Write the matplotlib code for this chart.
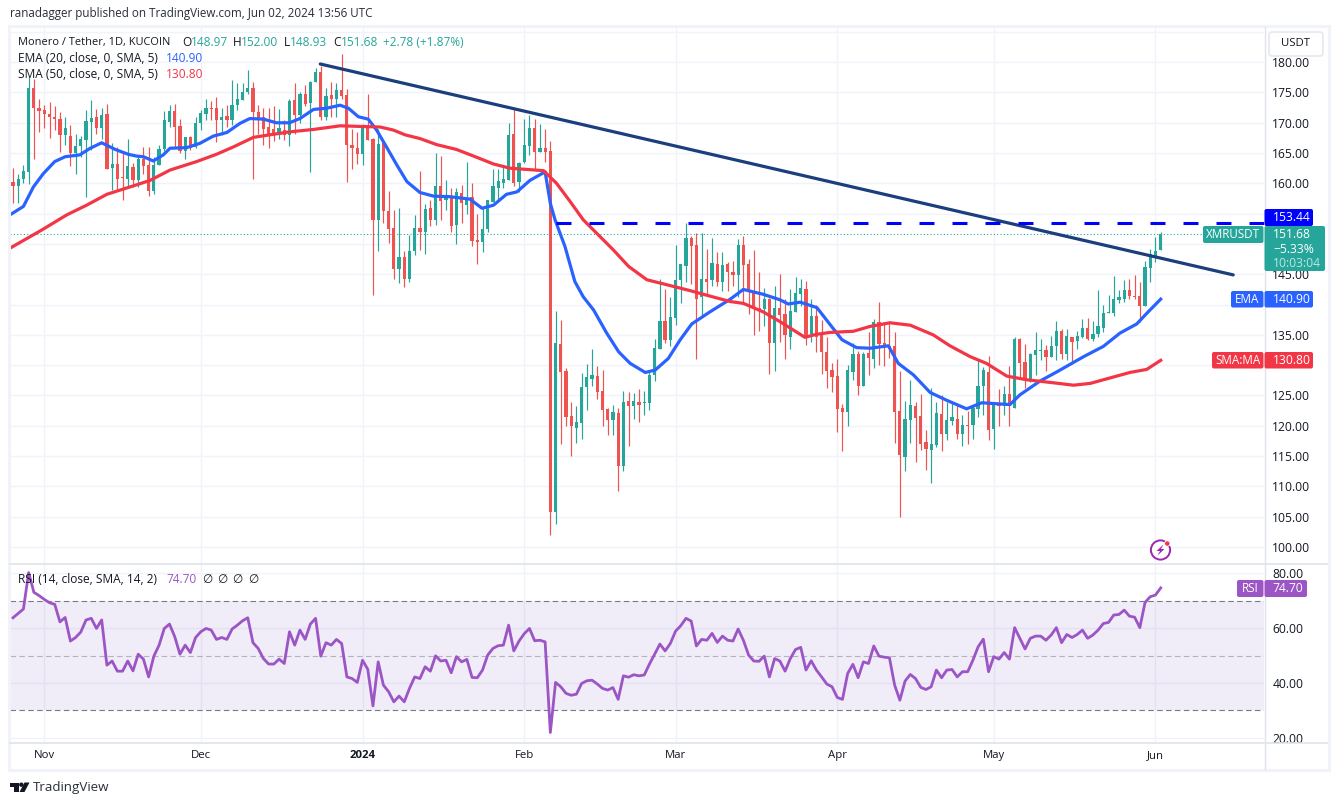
import matplotlib
matplotlib.use("Agg")
import numpy as np
import matplotlib.pyplot as plt
from matplotlib.patches import Circle, FancyBboxPatch, Polygon, Rectangle

plt.rcParams['font.family'] = ['Open Sans', 'DejaVu Sans']

W, H = 1338, 805

# daily candles, first one is 2023-10-26, last one 2024-06-02
opens = [160.2,159.6,160.8,161.8,175.7,172.5,172.1,171.5,170.9,170.7,168,167.9,165,166.1,167.1,170.2,170.9,169.1,171.4,162.6,
         163.2,161,160.7,162.7,160.5,164.1,163,158.7,163,165.6,170.1,171.9,169.5,165.4,167.7,166,169.9,171.4,172.5,172.5,
         170.5,171.1,170.5,172.9,173.7,175,175.8,171.8,170.9,169.3,169,168,168.8,168,173.8,171.3,174.7,173.3,176.8,178.3,
         170.9,174.6,173.9,175.4,174.6,166.3,165.9,164.9,169.6,167.3,154,166.6,155.5,152.6,145.9,147.8,144.3,148.9,152.6,151.9,
         155.9,154,159.6,157.3,157.7,153.1,158.4,156.4,157.7,150.7,150.4,152.4,157,159.2,160,160.6,168.1,160.3,163.6,166.2,
         169.2,165.2,165.9,165.3,105.7,133.5,129,121.6,119.6,120.5,126.4,127.8,128.2,125.7,122.7,121,122.1,113.3,124.1,123.2,
         123.9,123.7,123.8,128.3,132.7,137.3,134.2,137.8,144,146.4,151,149.8,141.3,144.2,144,146.7,143.8,146.7,145.4,144.9,
         149.8,146.7,142.1,139.4,139.3,141,133.7,139.5,138.5,134.7,138.8,141.7,142.5,135.1,138.1,134.9,132.1,129.2,128.2,122.9,
         122.2,128.8,131.8,126.6,132,131,137.1,133.6,133.2,133.1,122.4,114.9,121,123.3,121.6,117.3,116,116.8,122,118.6,
         120.8,121.2,118.7,120.1,120.1,122.8,126.5,128.9,119.5,123.7,123.2,125.2,123,134.3,130.5,127.7,131.7,132.4,132.5,131.4,
         133.1,135.6,131.8,134.7,134,134.6,136.2,134.3,135.1,136.2,138.6,138.6,140.8,141,142.4,141.4,141.4,139.8,146.1,147.7,148.97]
highs = [162.5,161.6,163,177.6,177.3,173.9,172.9,173.5,172.8,171.8,170.9,169.6,168.2,167.8,172.1,173.7,172.2,172.4,173.1,166.6,
         166,165,167.4,163.3,164.4,166,166,164.4,166.3,172,172.9,173.1,170.6,167.7,167.8,171,172.1,173.9,173.6,174.3,
         172.5,173,177,176.5,176.5,178.7,176.8,172.9,172.4,172.4,172.7,172.2,170.5,173.9,176.6,175.1,176.2,176.9,179,179.3,
         175.7,176.8,176.5,181.3,175.5,169,168.4,169.8,174.7,167.5,169,166.6,158.8,155.6,155.9,148.9,151.5,154.8,162,156.6,
         157.3,165,164.5,160.5,159.2,159.2,159.7,163.5,160.1,155,155.9,157.3,162.3,162.3,162.8,169.9,172.4,163.6,170.7,171.3,
         170.7,169.8,169,167,139,137.5,129.5,124,123.3,128.7,130.2,132.6,129.9,129.2,122.9,123.4,122.9,125.7,125.6,125.4,
         126,125.7,128.8,134.4,144.3,142.6,141.2,149.8,146.7,153.4,151.3,151.8,151.8,149.1,151,148.7,148.7,147.1,147.2,150.8,
         151.3,147.5,149,145.4,142.7,141.1,143.1,145.1,140.9,142.5,144.5,144.2,143.9,141,140,137.5,134.6,130.3,131,123.6,
         130,133.6,132.4,132.2,135.5,137.6,140.4,137.2,137.2,135.5,129,124.1,127.6,123.9,125.2,119.3,126.2,124,125.1,124,
         124,123.8,121.8,122.4,123.2,131,129.7,131.5,124,126.1,126.6,129.8,134.7,134.5,133.5,132,135.4,134.3,133.3,134.8,
         137.3,135.9,135.9,134.7,135.6,137.7,137.8,137.3,142.4,140,141.6,144.7,142.4,144.1,144.3,144.9,143.7,147.2,149.1,151.1,152]
lows = [156.7,156.8,160,159.9,164.1,168.4,169.2,167.5,168.8,165.2,166.3,162.9,161.6,164.4,157.8,165.5,168.1,167.4,162.3,158.9,
        159,157.2,159.2,159.4,159.4,161.6,158,158.3,163,165.4,169.3,165.8,165,164.1,165.5,165.9,168.8,170.5,170.5,166.9,
        168,169.3,169.6,172.1,173.7,174.8,160.8,168.2,166.3,165.8,167,167.4,167.2,166.2,168.2,169.9,172.7,161.9,176.8,170.5,
        170.4,171,171,174,160.3,162.3,163.2,163,167.1,141.6,148.9,153.4,150.1,144.3,143.5,142.9,143.8,148.2,149,148.3,
        153,153.1,154,155.6,151.9,150,153.4,155,149.6,146.7,148.7,152,157,157.5,159.2,160.5,159.6,158.5,163.4,164.7,
        162.2,165.1,163.6,102,103.8,117,119.9,115,117.2,117.9,122.6,126.5,124.5,120,118.4,118.5,109.3,112.5,116.6,121.1,
        120.7,121.8,122.6,127.4,132.7,133.7,133.2,136.6,140.2,143.8,143.4,131.1,138.3,141.4,143,143,142.3,142.3,143,141.2,
        140.5,138.5,135,135.7,136.5,128.5,129.1,133.9,131,132.7,138.8,139.7,133.3,133.9,132.2,128.5,126.3,125.6,118.9,115.9,
        120,127.5,125.1,126.6,128.3,129.5,130,129.8,131.2,117.2,105,112.6,117.2,114.1,116,112.7,110.6,116.5,115.9,117.7,
        120.1,117.9,116.7,117,117.8,121.5,121.8,117.7,116.2,120,121.8,119.9,123,128.1,126.3,127.2,128.4,130.9,129.1,131.4,
        130.9,131.1,130.9,130.3,132.7,134.5,134.2,134,134.7,135.4,138.6,138.1,140.2,140.5,141,141,137.2,139.8,143.8,147,148.93]
closes = [159.6,160.8,162,175.7,172.5,171.9,171.4,171,170.7,168,169.2,165,166.2,167.3,170.3,170.8,169.1,171.3,162.4,163.2,
          160.8,160.9,162.9,160.5,164.1,162.9,158.7,163,165.7,170.4,172,169.3,165.4,167.7,165.8,170,171.6,172.5,172.3,170.5,
          171,170.5,172.9,173.9,175,175.7,171.8,170.7,169,168,168.3,169.1,168,173.6,171.3,174.8,173.1,176.8,178.3,170.9,
          174.4,173.9,175.4,174.4,166.3,165.9,164.8,169.6,167.2,154,166.5,155.5,152.5,145.9,147.8,144.2,148.9,152.6,151.9,155.7,
          154,159.6,157.1,158.1,153,158.5,156.7,157.5,150.5,150.3,152.5,157.2,159.6,160.4,160.7,168,160.1,163.4,166.3,169.1,
          165.2,165.9,165.2,105.7,133.6,128.9,121.5,119.9,120.6,126.4,128,128.4,125.6,122.6,121,122.3,113.3,123.9,123.2,124.1,
          123.4,123.9,128.4,132.8,137.3,134.2,137.9,144.1,146.7,151,149.7,141,144.2,143.8,146.8,143.8,146.6,145.4,144.9,149.8,
          146.5,142,139.4,139.2,140.9,133.7,139.5,138.3,134.9,139,141.9,142.7,134.5,138.1,134.7,132.1,129.1,128,122.8,122.2,
          129.2,131.8,126.6,131.8,131.2,137.1,133.5,133.1,132.8,122.3,115.1,121.2,123.4,121.3,117,116.2,117,122.1,118.6,121,
          121.5,118.6,120.1,120,123,126.5,129.2,119.3,123.7,123.2,125.2,123.2,134.3,130.4,127.7,131.8,132.5,132.5,131.4,133.2,
          135.6,131.8,134.8,133.9,134.8,136.2,134.3,135.1,136.5,138.6,138.8,141,141.2,142.4,141.4,141.2,139.8,146.2,148.4,148.9,151.68]

# moving averages at these day numbers
ema_days = [-0.6,2,3.9,5.8,8,10,12.8,14.8,17,19.6,22.1,23.7,25,26.9,28.8,30.1,33.3,35.8,38.4,41,43.5,45.4,48,50.5,53,
            55,57.6,60.1,62.7,64.3,66.2,68.1,69.7,71.6,73.6,75.5,78,80.6,83.8,87.6,89.9,92.1,94.6,96.6,99.1,102,103,103.9,
            105.8,107.7,109.3,111.3,113.8,116.1,118.3,121.2,123.1,125.6,127.9,130.1,133.6,137.5,140,143.8,147,148.6,150.9,154.1,
            156.9,158.9,161.7,164.3,167.8,169.7,172.6,175.8,179,182.8,185.7,191.1,193,196.9,200.1,205.2,209,212.2,215.4,217.6,220]
ema_vals = [154.8,156.2,159.4,161.6,163.6,164.4,164.7,165.8,166.7,165.6,164.8,164.5,164.4,163.7,164.7,165.8,165.9,166.6,167.8,168.4,169.9,170.7,170.6,170,170,
            170.7,172.2,172.4,172.9,172.4,171,170.6,168.8,166,163,160.3,158.5,157.9,157.8,157.4,155.9,156.4,158.2,158.6,160.5,161.9,156.7,154,
            149.6,143.8,141.3,139.1,135.3,132.2,130.3,128.8,129.2,131.1,134.2,136.8,138.8,140.9,142.5,141.7,140.8,140.1,140.4,139.5,
            136.4,134.2,132.9,132.8,133.2,130.3,128.4,125.5,124.2,122.8,123.8,123.5,125.1,127.4,128.9,131.4,133.1,135.3,136.8,138.8,140.9]
sma_days = [-0.6,5.5,10.3,14.1,18,23.1,26.3,30.1,35.2,39,42.2,46.1,49.9,53,57.6,62.7,66.5,70.4,72.9,75.2,78,81.2,85,88.9,92.1,95.3,101.7,
            104.2,106.8,109.3,112.2,115.1,118,121.5,126.6,129.8,133.6,137.5,140,143.8,147,151.8,154,156.6,161.1,164.3,168.1,172,176.4,179.6,183.5,
            186.6,190.5,194.3,199.4,203.3,206.5,210.3,214.1,217.3,220]
sma_vals = [149.3,152.3,154.8,156.4,158.2,159.6,160.5,162.2,163.6,164.8,166,167.6,168.1,168.5,168.9,169.5,169.4,169.3,168.8,168,167.4,166.4,165.6,164.3,163.2,162.5,162.1,
            160,157,154,151.5,149,146.3,144.1,143,142.3,141.4,140.5,140.2,138.8,137.2,134.6,135.1,135.4,135.6,136.4,137,136.6,135,133.2,131.4,
            130.3,128.2,127.6,127.1,126.7,127,127.9,128.8,129.3,130.8]

rsi_vals = [63.8,65.4,67,80.3,73.1,71.9,70.5,69.3,68.7,62.3,63.9,55.3,56.6,58.6,63,63.6,59.9,63,46.5,48,
            44.3,44.3,48,44.4,50.5,48.7,42.2,49.8,53.8,59.9,61.5,56.9,50.5,53.8,51.1,56.6,58.7,59.9,59.3,55.9,
            56.6,55.9,59.7,61.1,62.7,63.8,54.7,52.6,48.9,46.9,46.9,48.7,47.1,58.7,53.8,59.3,55.9,61.5,63.6,49.8,
            54.7,53.8,55.9,54.4,42.2,41.6,40.2,48.3,45,31.6,47.7,39.2,36.8,33.1,35.2,33.1,38,42.2,41.6,45.9,
            44.3,49.9,48,48.3,43.7,49.6,47.7,48.6,42,41.9,44.7,50.2,52.6,53.6,53.8,61.1,51.7,55.3,58,59.9,
            55.4,55.6,55,21.9,40.2,38.6,36.2,35.5,35.9,39.8,40.8,41,39.6,38,37.4,38.3,34,42.6,42.1,43,
            42.6,42.9,46.9,50.5,54.2,51.7,54.4,58.9,60.9,63.6,62.6,53.5,55.9,55.6,58.1,54.8,57.1,55.6,55.3,59.7,
            55.6,50.2,48,47.9,49.8,42.2,48.9,48,44.3,48.9,52.2,53,44.7,48.1,44.7,42.2,39.6,38.6,34.7,34,
            43.5,46.8,41.9,47.7,47.1,53.5,49.8,49.4,49.2,39.2,33.7,40.7,43.1,41.6,38.4,37.6,38.6,44.7,41.9,44.7,
            44.9,42.2,44.1,44.1,48.3,53.2,56,44.1,49.6,48.7,51.1,48.7,60.2,56.3,52.4,56.3,57.1,57.1,55.6,57.5,
            60.2,54.7,57.7,56.6,57.7,59.3,56.3,57.5,59.3,61.7,62.1,64.8,65,66.6,64.4,64,60.2,69.4,71.5,72.1,74.7]

trend_days = [58.9, 233.9]
trend_prices = [179.7, 144.9]
resistance = 153.44
resistance_from = 104
last_close = 151.68

month_days = [6, 36, 67, 98, 127, 158, 188, 219]
month_labels = ['Nov', 'Dec', '2024', 'Feb', 'Mar', 'Apr', 'May', 'Jun']
price_ticks = list(range(100, 190, 5))
# these sit behind the price tags or the currency button, so no label
hidden_ticks = [130, 140, 150, 155, 185]
rsi_ticks = [20, 40, 60, 80]

UP = '#26a69a'
DOWN = '#ef5350'
GRID = '#f0f3fa'
BORDER = '#e0e3eb'
TEXT = '#131722'
EMA_C = '#2962ff'
SMA_C = '#f23645'
RSI_C = '#9c55c4'

fig = plt.figure(figsize=(W / 100, H / 100), dpi=100, facecolor='white')


def box(x0, y0, x1, y1):
    return [x0 / W, 1 - y1 / H, (x1 - x0) / W, (y1 - y0) / H]


x_left, x_right = -0.575, 239.8
ax = fig.add_axes(box(10, 28, 1264, 563))
ax.set_xlim(x_left, x_right)
ax.set_ylim(97.36, 185.64)
rsi_ax = fig.add_axes(box(10, 564, 1264, 742))
rsi_ax.set_xlim(x_left, x_right)
rsi_ax.set_ylim(18.43, 83.44)

# candles
days = np.arange(len(opens))
o = np.array(opens)
c = np.array(closes)
colors = [UP if b >= a else DOWN for a, b in zip(opens, closes)]
ax.vlines(days, lows, highs, colors=colors, linewidth=0.85, zorder=3)
ax.bar(days, np.abs(c - o), bottom=np.minimum(o, c), width=0.62, color=colors, zorder=3)

ax.plot(ema_days, ema_vals, color=EMA_C, lw=2.3, zorder=4, solid_joinstyle='round')
ax.plot(sma_days, sma_vals, color=SMA_C, lw=2.3, zorder=4, solid_joinstyle='round')
ax.plot(trend_days, trend_prices, color='#1b3f7d', lw=2.3, zorder=5, solid_capstyle='round')
ax.plot([resistance_from, x_right], [resistance, resistance], color='#0000ff', lw=2.2,
        linestyle=(0, (4.9, 5.9)), zorder=5)
ax.axhline(last_close, color=UP, lw=0.8, linestyle=(0, (1, 2)), zorder=2)

ax.set_xticks(month_days)
ax.set_xticklabels([])
ax.set_yticks(price_ticks)
ax.yaxis.tick_right()
ax.set_yticklabels(['' if p in hidden_ticks else '%.2f' % p for p in price_ticks])
ax.tick_params(axis='both', length=0)
ax.tick_params(axis='y', labelsize=8.7, labelcolor=TEXT, pad=6)
ax.grid(True, color=GRID, lw=1)
ax.set_axisbelow(True)

# rsi pane
rsi_ax.axhspan(30, 70, color='#7e57c2', alpha=0.11, lw=0, zorder=1)
rsi_ax.axhline(70, color='#787b86', lw=0.8, linestyle=(0, (5, 3)), zorder=2)
rsi_ax.axhline(30, color='#787b86', lw=0.8, linestyle=(0, (5, 3)), zorder=2)
rsi_ax.axhline(50, color='#787b86', lw=0.8, linestyle=(0, (5, 3)), alpha=0.5, zorder=2)
rsi_ax.plot(days, rsi_vals, color=RSI_C, lw=2, zorder=4, solid_joinstyle='round')
rsi_ax.set_xticks(month_days)
rsi_ax.set_xticklabels(month_labels)
rsi_ax.get_xticklabels()[2].set_fontweight('bold')
rsi_ax.set_yticks(rsi_ticks)
rsi_ax.yaxis.tick_right()
rsi_ax.set_yticklabels(['%.2f' % v for v in rsi_ticks])
rsi_ax.tick_params(axis='both', length=0)
rsi_ax.tick_params(axis='y', labelsize=8.7, labelcolor=TEXT, pad=6)
rsi_ax.tick_params(axis='x', labelsize=8.2, labelcolor=TEXT, pad=6)
rsi_ax.grid(True, color=GRID, lw=1)
rsi_ax.set_axisbelow(True)

for a in (ax, rsi_ax):
    for s in a.spines.values():
        s.set_visible(False)

# overlay in pixel coordinates for frame, tags and header
ov = fig.add_axes([0, 0, 1, 1], facecolor='none', zorder=10)
ov.set_xlim(0, W)
ov.set_ylim(H, 0)
ov.axis('off')


def txt(x, y, s, color=TEXT, size=8.7, ha='left', **kw):
    ov.text(x, y, s, color=color, fontsize=size, ha=ha, va='center', **kw)


def tag(x0, x1, y0, y1, color):
    ov.add_patch(FancyBboxPatch((x0 + 1, y0 + 1), x1 - x0 - 2, y1 - y0 - 2, boxstyle='round,pad=1,rounding_size=2',
                                fc=color, ec='none', zorder=3))


# frame
ov.add_patch(Rectangle((9, 26.5), 1319.5, 743, fc='none', ec=GRID, lw=2.2))
ov.plot([1264.5, 1264.5], [27, 769], color=BORDER, lw=1)
ov.plot([10, 1327], [563.5, 563.5], color=BORDER, lw=1.2)
ov.plot([10, 1327], [742.5, 742.5], color=BORDER, lw=1.2)

txt(10, 14, 'ranadagger published on TradingView.com, Jun 02, 2024 13:56 UTC', size=8.35, color='#2a2e39')

# legend lines
txt(18, 42, 'Monero / Tether, 1D, KUCOIN', size=7.9)
for xl, letter, xv, val in [(182, 'O', 191, '148.97'), (233, 'H', 241, '152.00'),
                            (284, 'L', 290, '148.93'), (333, 'C', 341, '151.68')]:
    txt(xl, 42, letter, size=8.6)
    txt(xv, 42, val, size=8.6, color=UP)
txt(383, 42, '+2.78 (+1.87%)', size=8.6, color=UP)
txt(18, 59, 'EMA (20, close, 0, SMA, 5)', size=8.6)
txt(166, 59, '140.90', size=8.6, color=EMA_C)
txt(18, 75, 'SMA (50, close, 0, SMA, 5)', size=8.6)
txt(166, 75, '130.80', size=8.6, color=SMA_C)
txt(18, 579, 'RSI (14, close, SMA, 14, 2)', size=8.6)
txt(166, 579, '74.70', size=8.6, color=RSI_C)
for xv in [207, 222, 237, 253]:
    txt(xv, 579, '∅', size=8.6, ha='center')

# usdt button
ov.add_patch(FancyBboxPatch((1269, 32), 54, 24, boxstyle='round,pad=0,rounding_size=3', fc='white', ec=BORDER, lw=1, zorder=2))
txt(1296, 44, 'USDT', ha='center', size=8.2)

# price tags
tag(1264.5, 1313, 209, 226, '#0000ff')
txt(1273, 217.5, '153.44', color='white')
tag(1203, 1263.5, 226, 243, UP)
txt(1233, 234.5, 'XMRUSDT', color='white', ha='center', size=8.4)
tag(1264.5, 1325, 226, 271, UP)
txt(1273, 234.5, '151.68', color='white')
txt(1273, 249, '−5.33%', color='white')
txt(1273, 263, '10:03:04', color='#bfe5e1')
tag(1231, 1263.5, 291, 307.5, EMA_C)
txt(1247, 299, 'EMA', color='white', ha='center', size=8.4)
tag(1264.5, 1313, 291, 307.5, EMA_C)
txt(1273, 299, '140.90', color='white')
tag(1212, 1263.5, 352, 368.5, SMA_C)
txt(1238, 360, 'SMA:MA', color='white', ha='center', size=8.4)
tag(1264.5, 1313, 352, 368.5, SMA_C)
txt(1273, 360, '130.80', color='white')
tag(1237, 1263.5, 580, 597, RSI_C)
txt(1250, 588.5, 'RSI', color='white', ha='center', size=8.4)
tag(1264.5, 1307, 580, 597, RSI_C)
txt(1272, 588.5, '74.70', color='white')

# lightning icon
ov.add_patch(Circle((1160.5, 550), 9.6, fc='white', ec='#9c27b0', lw=1.4, zorder=3))
ov.add_patch(Polygon([[1163.5, 544.5], [1156.5, 551], [1160, 551], [1157.5, 555.5], [1164.5, 549], [1161, 549]],
                     closed=True, fc='#9c27b0', ec='none', zorder=4))
ov.add_patch(Circle((1167.3, 543.5), 2.7, fc='#f23645', ec='white', lw=0.6, zorder=5))

# tradingview logo
ov.add_patch(Polygon([[10, 782.5], [18.5, 782.5], [18.5, 792], [14, 792], [14, 787], [10, 787]], closed=True, fc=TEXT, ec='none'))
ov.add_patch(Circle((21.3, 784.7), 2.2, fc=TEXT, ec='none'))
ov.add_patch(Polygon([[24.5, 782.5], [29.5, 782.5], [24.5, 792], [19.5, 792]], closed=True, fc=TEXT, ec='none'))
txt(33, 787.5, 'TradingView', size=9.6, color='#2a2e39')

fig.savefig('out.png', dpi=100)
